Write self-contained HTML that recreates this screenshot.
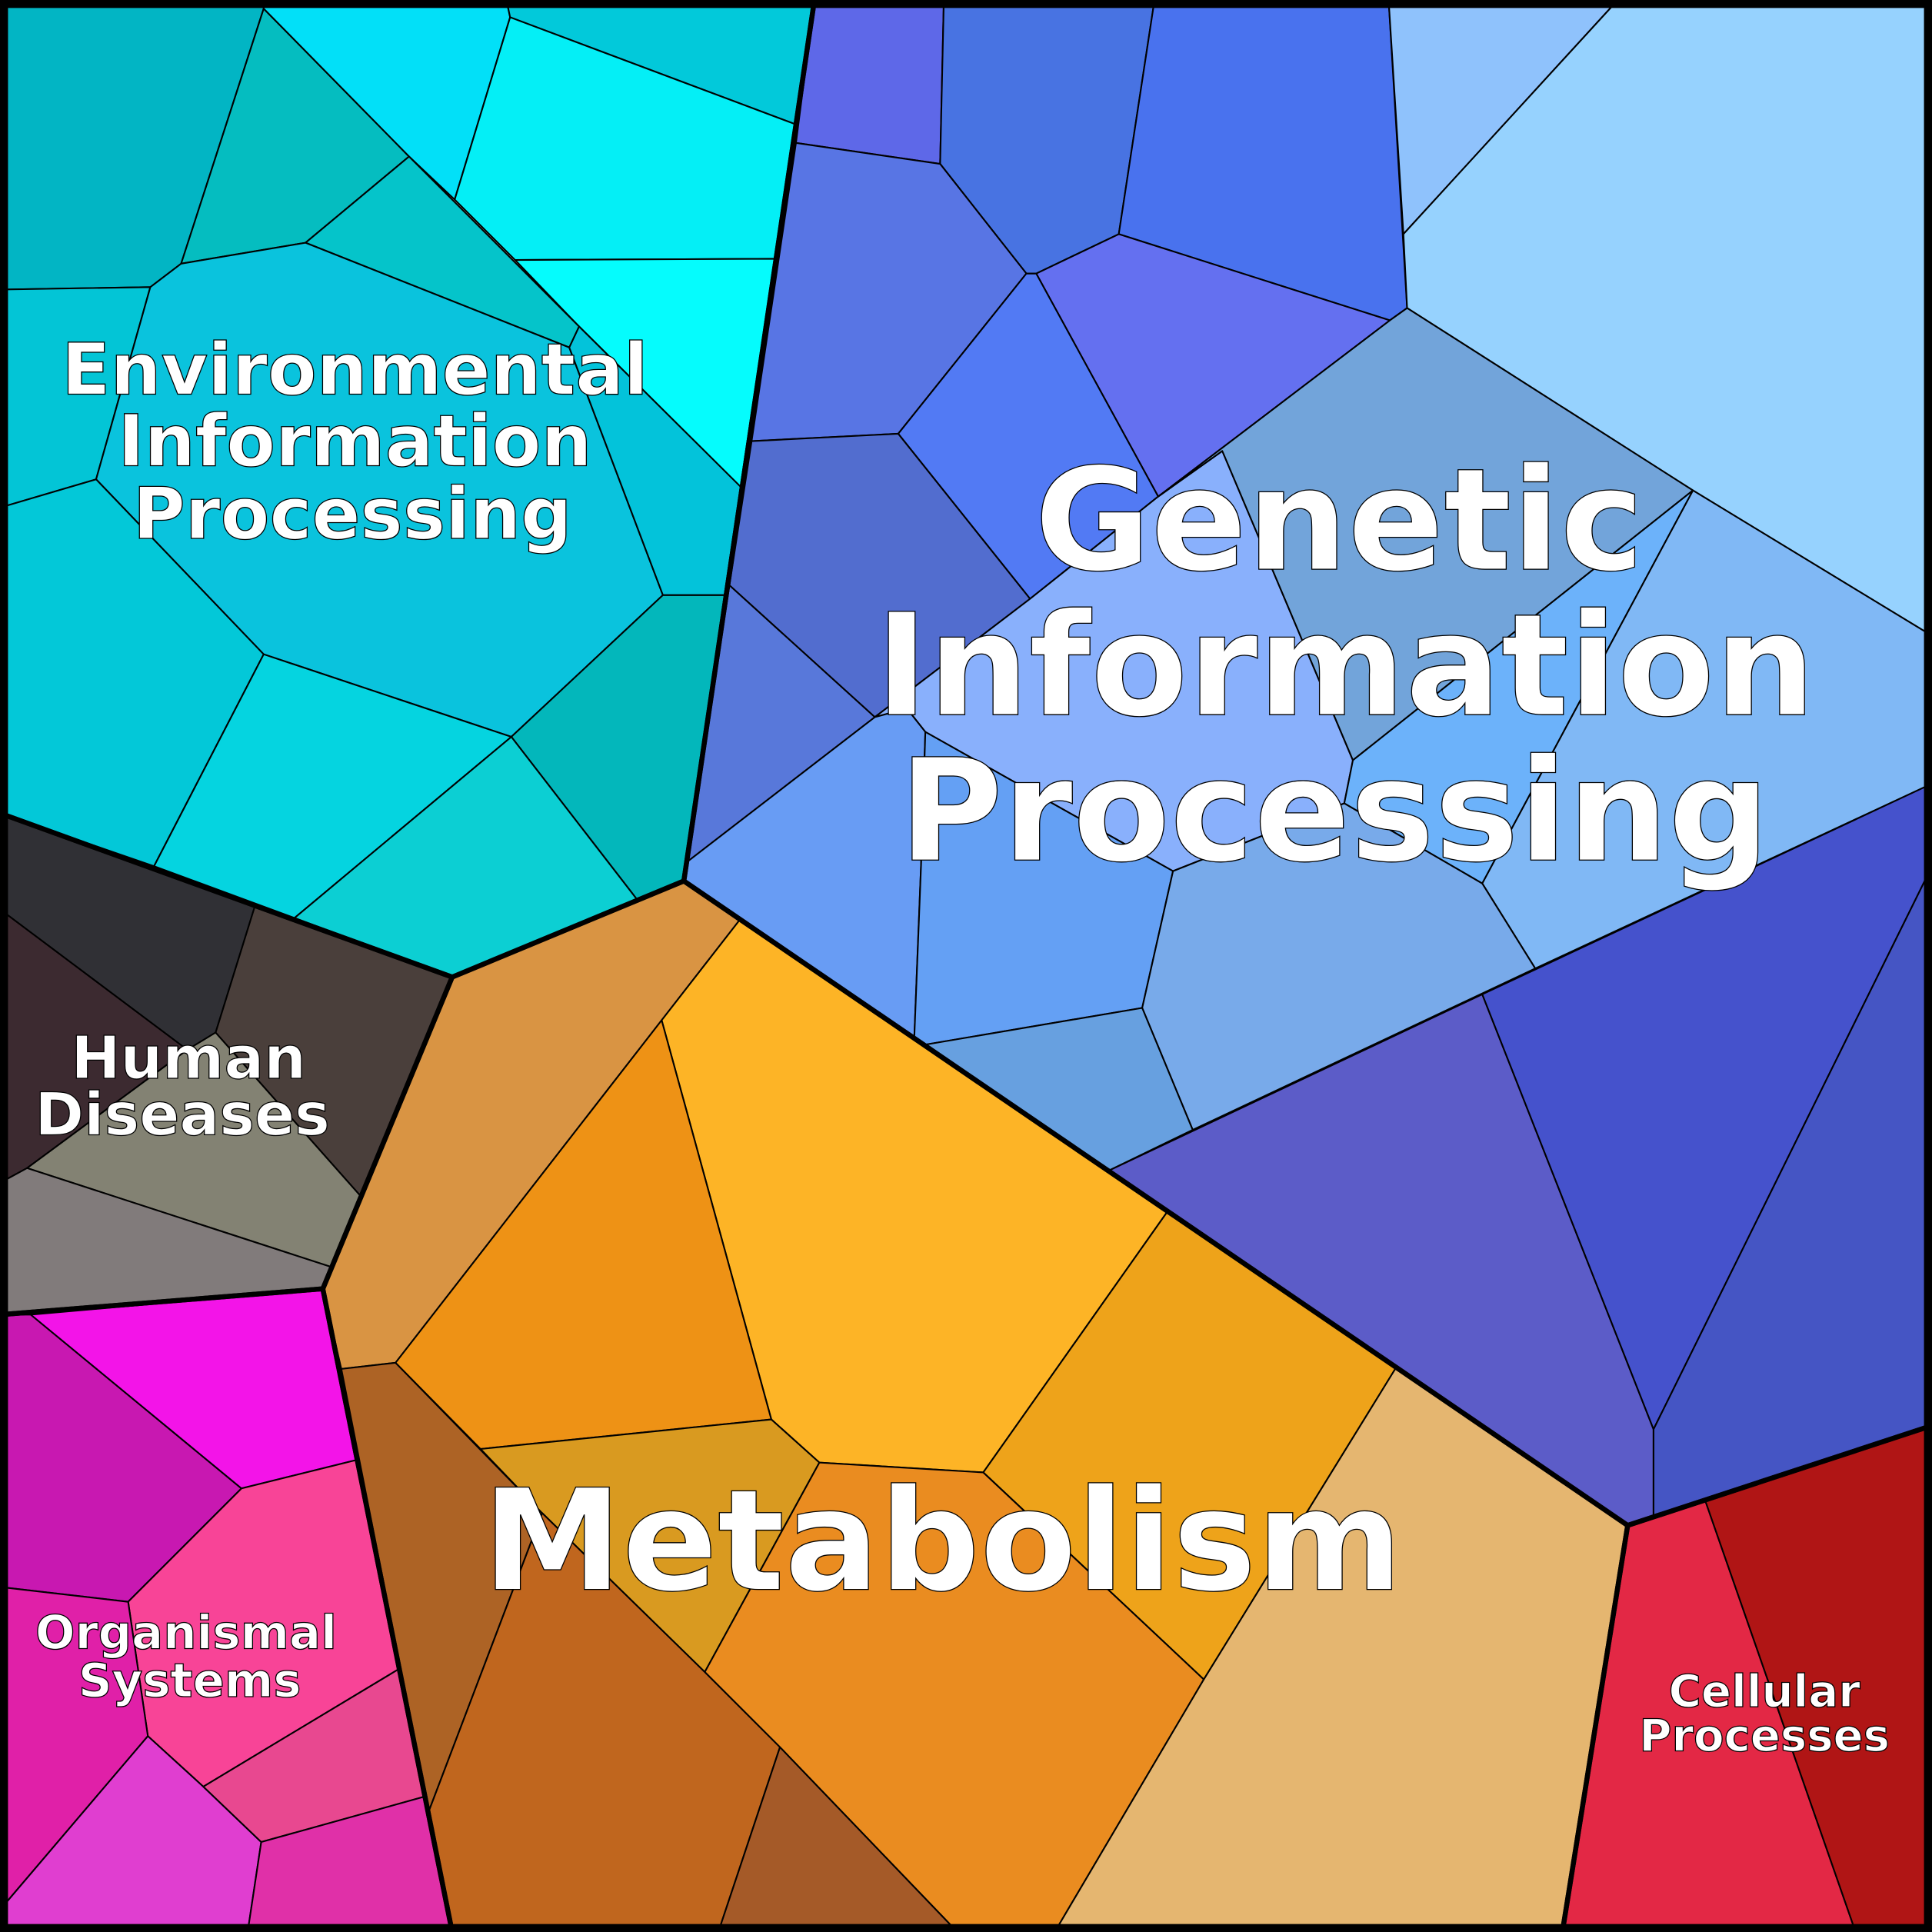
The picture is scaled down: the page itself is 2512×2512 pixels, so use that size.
<!DOCTYPE html>
<html><head><meta charset="utf-8"><style>html,body{margin:0;padding:0;background:#fff}svg{display:block}</style></head><body>
<svg width="2512" height="2512" viewBox="0 0 1568 1568" xmlns="http://www.w3.org/2000/svg">
<g stroke="#000" stroke-width="1.3" stroke-linejoin="round">
<!-- Environmental -->
<polygon fill="#02b5c4" points="0,0 214,0 214,7 147,214 122,233 0,235"/>
<polygon fill="#05bdc0" points="214,7 332,127 248,197 147,214"/>
<polygon fill="#02e0f8" points="214,0 411,0 414,14 369,162 332,127 214,7"/>
<polygon fill="#02c9da" points="411,0 661,0 646,101 414,14"/>
<polygon fill="#04eff6" points="414,14 646,101 629,210 418,211 369,162"/>
<polygon fill="#05fcfd" points="418,211 629,210 601,395 470,265"/>
<polygon fill="#05c4ca" points="332,127 470,265 462,282 248,197"/>
<polygon fill="#03c5d6" points="0,235 122,233 78,389 0,412"/>
<polygon fill="#0ac3dd" points="122,233 147,214 248,197 462,282 538,483 415,598 214,531 78,389"/>
<polygon fill="#03c3da" points="470,265 601,395 588,483 538,483 462,282"/>
<polygon fill="#03c8d8" points="0,412 78,389 214,531 125,703 0,660"/>
<polygon fill="#05d4e0" points="214,531 415,598 239,745 125,703"/>
<polygon fill="#03b7bb" points="415,598 538,483 588,483 555,715 517,730"/>
<polygon fill="#0ccfd3" points="239,745 415,598 517,730 367,793"/>
<!-- Human diseases -->
<polygon fill="#303035" points="0,660 207,735 175,838 152,852 0,738"/>
<polygon fill="#4a3f3b" points="207,735 367,793 292,970 175,838"/>
<polygon fill="#3c2a30" points="0,738 152,852 22,948 0,960"/>
<polygon fill="#838273" points="152,852 175,838 292,970 268,1028 22,948"/>
<polygon fill="#817b7b" points="0,960 22,948 268,1028 262,1046 0,1067"/>
<!-- Organismal -->
<polygon fill="#c818b1" points="0,1067 25,1067 196,1208 104,1300 0,1288"/>
<polygon fill="#f314e8" points="25,1067 262,1046 289,1185 196,1208"/>
<polygon fill="#f84497" points="196,1208 289,1185 323,1355 165,1450 120,1409 104,1300"/>
<polygon fill="#e020a8" points="0,1288 104,1300 120,1409 0,1550"/>
<polygon fill="#e03ed0" points="120,1409 165,1450 212,1495 201,1568 0,1568 0,1550"/>
<polygon fill="#e84890" points="165,1450 323,1355 345,1458 212,1495"/>
<polygon fill="#e030a8" points="212,1495 345,1458 367,1568 201,1568"/>
<!-- Metabolism -->
<polygon fill="#d99443" points="367,793 555,715 600,747 537,828 321,1106 277,1111 262,1046"/>
<polygon fill="#fdb426" points="600,747 900,950 947,984 798,1195 665,1187 626,1152 537,828"/>
<polygon fill="#ee9215" points="537,828 626,1152 390,1176 321,1106"/>
<polygon fill="#eea31a" points="947,984 1133,1110 977,1363 798,1195"/>
<polygon fill="#ad6325" points="277,1111 321,1106 440,1228 348,1470"/>
<polygon fill="#d99a20" points="390,1176 626,1152 665,1187 572,1357 440,1228"/>
<polygon fill="#ea8c20" points="665,1187 798,1195 977,1363 856,1568 777,1568 633,1418 572,1357"/>
<polygon fill="#c0661e" points="440,1228 572,1357 633,1418 583,1568 367,1568 348,1470"/>
<polygon fill="#a55a28" points="633,1418 777,1568 583,1568"/>
<polygon fill="#e5b670" points="1133,1110 1321,1238 1268,1568 856,1568 977,1363"/>
<!-- Cellular -->
<polygon fill="#e32845" points="1321,1238 1384,1218 1506,1568 1268,1568"/>
<polygon fill="#b01515" points="1384,1218 1568,1157 1568,1568 1506,1568"/>
<!-- Genetic -->
<polygon fill="#5e68e8" points="661,0 766,0 763,133 646,116"/>
<polygon fill="#4873e2" points="766,0 937,0 908,190 841,222 833,222 763,133"/>
<polygon fill="#4972ee" points="937,0 1127,0 1142,250 1128,260 908,190"/>
<polygon fill="#8fc2fc" points="1127,0 1313,0 1139,190"/>
<polygon fill="#96d2fe" points="1313,0 1568,0 1568,516 1374,398 1142,250 1139,190"/>
<polygon fill="#5875e4" points="646,116 763,133 833,222 729,352 610,358"/>
<polygon fill="#6470f0" points="841,222 908,190 1128,260 940,403"/>
<polygon fill="#527af4" points="833,222 841,222 940,403 836,486 729,352"/>
<polygon fill="#526dcf" points="610,358 729,352 836,486 710,582 592,475"/>
<polygon fill="#5878da" points="592,475 710,582 557,700"/>
<polygon fill="#89b0fc" points="836,486 940,403 992,366 1098,617 1091,652 952,707 751,594 736,575 710,582"/>
<polygon fill="#72a4da" points="940,403 1128,260 1142,250 1374,398 1098,617 992,366"/>
<polygon fill="#6cb2fa" points="1098,617 1374,398 1203,717 1091,652"/>
<polygon fill="#80b8f5" points="1374,398 1568,516 1568,636 1246,786 1203,717"/>
<polygon fill="#689cf4" points="557,700 710,582 736,575 751,594 748,690 742,843 600,747 555,715"/>
<polygon fill="#64a0f4" points="751,594 952,707 927,818 750,848 742,843 748,690"/>
<polygon fill="#78aaea" points="952,707 1091,652 1203,717 1246,786 968,917 927,818"/>
<polygon fill="#67a0e0" points="750,848 927,818 968,917 900,950 742,843"/>
<polygon fill="#5c5cc8" points="900,950 1203,807 1342,1160 1342,1230 1321,1238"/>
<polygon fill="#4552cc" points="1203,807 1568,636 1568,703 1342,1160"/>
<polygon fill="#4555c4" points="1342,1160 1568,703 1568,1157 1342,1230"/>
</g>
<g fill="none" stroke="#000" stroke-width="4" stroke-linejoin="round">
<polygon points="0,0 661,0 555,715 367,793 0,660"/>
<polygon points="661,0 1568,0 1568,1157 1321,1238 555,715"/>
<polygon points="555,715 1321,1238 1268,1568 367,1568 262,1046 367,793"/>
<polygon points="0,660 367,793 262,1046 0,1067"/>
<polygon points="0,1067 262,1046 367,1568 0,1568"/>
<polygon points="1321,1238 1568,1157 1568,1568 1268,1568"/>
<rect x="3" y="3" width="1562" height="1562" stroke-width="7"/>
</g>
<g font-family="DejaVu Sans, Liberation Sans, sans-serif" font-weight="bold" fill="#fff" stroke="#000" stroke-width="0.8" text-anchor="middle">
<g font-size="58"><text x="288" y="320">Environmental</text><text x="288" y="378">Information</text><text x="286" y="437">Processing</text></g>
<g font-size="115"><text x="1087" y="462">Genetic</text><text x="1092" y="580">Information</text><text x="1083" y="698">Processing</text></g>
<text x="765" y="1290" font-size="114">Metabolism</text>
<g font-size="48"><text x="153" y="875">Human</text><text x="148" y="921">Diseases</text></g>
<g font-size="38"><text x="151" y="1338">Organismal</text><text x="154" y="1377">Systems</text></g>
<g font-size="36"><text x="1432" y="1385">Cellular</text><text x="1432" y="1421">Processes</text></g>
</g>
</svg>
</body></html>
